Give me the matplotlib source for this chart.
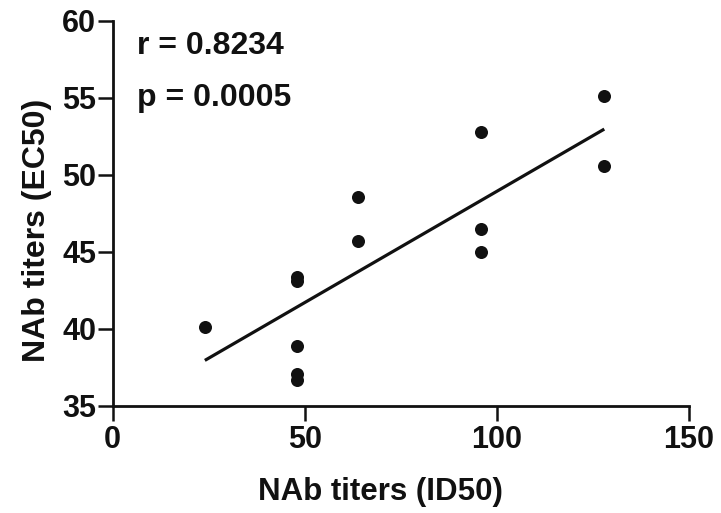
import numpy as np
import matplotlib
matplotlib.use('Agg')
import matplotlib.pyplot as plt

plt.rcParams['font.family'] = ['Liberation Sans', 'DejaVu Sans']
plt.rcParams['font.weight'] = 'bold'

# NAb titers
id50 = [24, 48, 48, 48, 48, 48, 64, 64, 96, 96, 96, 128, 128]
ec50 = [40.1, 43.4, 43.1, 38.9, 37.1, 36.7, 48.6, 45.7, 52.8, 46.5, 45.0, 55.1, 50.6]

x_ticks = [0, 50, 100, 150]
y_ticks = [35, 40, 45, 50, 55, 60]
r_text = 'r = 0.8234'
p_text = 'p = 0.0005'

fig = plt.figure(figsize=(7.21, 5.13), dpi=100)
ax = fig.add_axes([0.1563, 0.2086, 0.799, 0.7505])

x = np.array(id50)
y = np.array(ec50)
ax.scatter(x, y, s=88, c='#111111', zorder=3, linewidths=0)

# linear fit
a, b = np.polyfit(x, y, 1)
xf = np.array([x.min(), x.max()])
ax.plot(xf, a * xf + b, color='#111111', lw=2.3, solid_capstyle='butt')

ax.set_xlim(0, 150)
ax.set_ylim(35, 60)
ax.set_xticks(x_ticks)
ax.set_yticks(y_ticks)

for s in ['top', 'right']:
    ax.spines[s].set_visible(False)
for s in ['left', 'bottom']:
    ax.spines[s].set_linewidth(2.0)
    ax.spines[s].set_color('#111111')
ax.tick_params(direction='out', length=11, width=1.8, colors='#111111',
               labelsize=22)
ax.tick_params(axis='y', pad=1)
ax.tick_params(axis='x', pad=3)
for lab in ax.get_xticklabels() + ax.get_yticklabels():
    lab.set_fontweight('bold')

ax.set_xlabel('NAb titers (ID50)', fontsize=22.5, fontweight='bold', color='#111111')
ax.set_ylabel('NAb titers (EC50)', fontsize=23, fontweight='bold', color='#111111')
ax.xaxis.set_label_coords(0.464, -0.185)
ax.yaxis.set_label_coords(-0.105, 0.457)

ax.text(6.2, 58.4, r_text, fontsize=23, fontweight='bold', va='center', color='#111111')
ax.text(6.2, 55.0, p_text, fontsize=23, fontweight='bold', va='center', color='#111111')

plt.savefig('out.png', dpi=100)
